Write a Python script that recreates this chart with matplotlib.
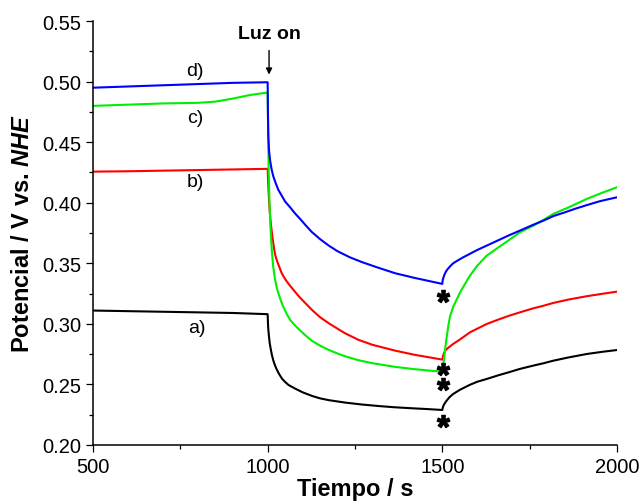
import matplotlib
matplotlib.use('Agg')
import matplotlib.pyplot as plt
from matplotlib.ticker import MultipleLocator

plt.rcParams['font.family'] = ['Liberation Sans', 'DejaVu Sans']
plt.rcParams['mathtext.fontset'] = 'custom'
plt.rcParams['mathtext.rm'] = 'Liberation Sans:bold'
plt.rcParams['mathtext.it'] = 'Liberation Sans:bold:italic'
plt.rcParams['mathtext.bf'] = 'Liberation Sans:bold'

# curve a) black
t_a = [500, 600, 700, 800, 900, 1000, 1001, 1002, 1004, 1006, 1009, 1012, 1016, 1020, 1025,
       1032, 1041, 1050, 1060, 1079, 1100, 1127, 1150, 1175, 1222, 1270, 1320, 1365, 1420,
       1460, 1500, 1502, 1505, 1512, 1520, 1531, 1550, 1579, 1600, 1627, 1660, 1690, 1722,
       1760, 1790, 1818, 1860, 1913, 1960, 2000]
v_a = [0.311, 0.3105, 0.310, 0.3095, 0.309, 0.308, 0.300, 0.295, 0.289, 0.284, 0.279, 0.2745,
       0.270, 0.2665, 0.263, 0.259, 0.2548, 0.252, 0.2495, 0.2465, 0.2435, 0.2405, 0.2385,
       0.237, 0.235, 0.2334, 0.2321, 0.2311, 0.2302, 0.2296, 0.2289, 0.2315, 0.2335, 0.2365,
       0.2393, 0.2421, 0.2455, 0.2497, 0.2522, 0.2545, 0.2575, 0.260, 0.2628, 0.2655, 0.2675,
       0.2696, 0.2722, 0.2751, 0.2770, 0.2784]

# curve b) red
t_b = [500, 600, 700, 800, 900, 1000, 1001, 1002, 1004, 1006, 1008, 1011, 1015, 1019, 1022,
       1028, 1034, 1040, 1050, 1060, 1074, 1090, 1105, 1127, 1150, 1175, 1200, 1222, 1260,
       1300, 1365, 1420, 1460, 1500, 1502, 1505, 1510, 1518, 1531, 1550, 1579, 1600, 1627,
       1660, 1690, 1722, 1760, 1790, 1818, 1860, 1913, 1960, 2000]
v_b = [0.4257, 0.426, 0.4265, 0.427, 0.4275, 0.428, 0.420, 0.413, 0.402, 0.393, 0.386, 0.378,
       0.369, 0.361, 0.3565, 0.351, 0.3465, 0.342, 0.337, 0.333, 0.328, 0.3225, 0.318, 0.3115,
       0.3055, 0.3005, 0.296, 0.2922, 0.2868, 0.2827, 0.2779, 0.2745, 0.2725, 0.2705, 0.2735,
       0.276, 0.2785, 0.2805, 0.2834, 0.287, 0.293, 0.296, 0.2999, 0.3035, 0.3066, 0.3095,
       0.3128, 0.315, 0.3173, 0.320, 0.3228, 0.3249, 0.3266]

# curve c) green
t_c = [500, 600, 700, 800, 850, 900, 925, 950, 975, 1000, 1001, 1002, 1003, 1005, 1008, 1012,
       1016, 1021, 1026, 1031, 1038, 1045, 1055, 1065, 1079, 1095, 1110, 1127, 1150, 1175,
       1200, 1222, 1260, 1300, 1365, 1420, 1460, 1500, 1502, 1505, 1508, 1512, 1517, 1522,
       1531, 1541, 1551, 1565, 1579, 1600, 1627, 1660, 1690, 1722, 1760, 1790, 1818, 1860,
       1913, 1960, 2000]
v_c = [0.480, 0.481, 0.482, 0.4825, 0.4835, 0.486, 0.4875, 0.489, 0.490, 0.491, 0.470, 0.445,
       0.425, 0.403, 0.380, 0.360, 0.347, 0.337, 0.330, 0.325, 0.319, 0.314, 0.308, 0.303,
       0.2985, 0.294, 0.290, 0.286, 0.282, 0.2785, 0.2755, 0.2732, 0.2700, 0.2675, 0.2645,
       0.2626, 0.2615, 0.2605, 0.265, 0.271, 0.279, 0.288, 0.298, 0.306, 0.314, 0.320, 0.326,
       0.333, 0.3398, 0.348, 0.3563, 0.363, 0.369, 0.3756, 0.381, 0.386, 0.3908, 0.396,
       0.4031, 0.4085, 0.4128]

# curve d) blue
t_d = [500, 600, 700, 800, 900, 1000, 1001, 1002, 1004, 1007, 1011, 1016, 1022, 1030, 1040,
       1050, 1065, 1079, 1095, 1110, 1127, 1150, 1175, 1200, 1235, 1270, 1310, 1365, 1420,
       1460, 1500, 1501, 1503, 1506, 1510, 1516, 1524, 1531, 1545, 1560, 1580, 1600, 1627,
       1660, 1690, 1722, 1760, 1790, 1818, 1850, 1880, 1913, 1950, 1980, 2000]
v_d = [0.495, 0.496, 0.497, 0.498, 0.499, 0.4995, 0.470, 0.455, 0.443, 0.435, 0.428, 0.422,
       0.417, 0.411, 0.406, 0.401, 0.396, 0.391, 0.386, 0.381, 0.3757, 0.370, 0.3646, 0.360,
       0.355, 0.351, 0.347, 0.3418, 0.338, 0.3355, 0.333, 0.336, 0.338, 0.3405, 0.343,
       0.3455, 0.348, 0.350, 0.3525, 0.355, 0.358, 0.361, 0.3646, 0.369, 0.373, 0.377,
       0.3818, 0.3853, 0.389, 0.392, 0.395, 0.398, 0.4012, 0.4032, 0.4045]

labels = ['a)', 'b)', 'c)', 'd)']
label_t = [798, 792, 792, 792]
label_v = [0.2966, 0.4172, 0.4708, 0.5088]

star_t = [1502, 1502, 1502, 1502]
star_v = [0.2201, 0.2628, 0.2504, 0.3233]

fig, ax = plt.subplots(figsize=(6.4, 5.02), dpi=100)
fig.subplots_adjust(left=0.1453, right=0.964, bottom=0.1116, top=0.956)

ax.plot(t_a, v_a, color='black', lw=1.5)
ax.plot(t_b, v_b, color='#ff0000', lw=1.5)
ax.plot(t_c, v_c, color='#00ee00', lw=1.5)
ax.plot(t_d, v_d, color='#0000ff', lw=1.5)

for lab, tx, vy in zip(labels, label_t, label_v):
    ax.text(tx, vy, lab, fontsize=14, ha='center', va='center')

ax.plot(star_t, star_v, ls='none', marker='$*$', ms=9, color='black')

ax.annotate('', xy=(1004, 0.5035), xytext=(1004, 0.528),
            arrowprops=dict(arrowstyle='-|>', color='black', lw=1, mutation_scale=9))
ax.text(1005, 0.540, 'Luz on', fontsize=14, fontweight='bold', ha='center', va='center')

ax.set_xlim(500, 2000)
ax.set_ylim(0.20, 0.55)
ax.xaxis.set_major_locator(MultipleLocator(500))
ax.xaxis.set_minor_locator(MultipleLocator(250))
ax.yaxis.set_major_locator(MultipleLocator(0.05))
ax.yaxis.set_minor_locator(MultipleLocator(0.025))
ax.yaxis.set_major_formatter(plt.FormatStrFormatter('%.2f'))

ax.spines['top'].set_visible(False)
ax.spines['right'].set_visible(False)
for s in ['left', 'bottom']:
    ax.spines[s].set_linewidth(1.1)
ax.tick_params(which='major', direction='out', length=5, width=0.9, labelsize=14.5)
ax.tick_params(which='minor', direction='out', length=3, width=0.9)

ax.set_xlabel('Tiempo / s', fontsize=17, fontweight='bold', labelpad=1)
ax.set_ylabel(r'Potencial / V vs. $\mathit{NHE}$', fontsize=17, fontweight='bold', labelpad=6)

fig.savefig('out.png', dpi=100)
